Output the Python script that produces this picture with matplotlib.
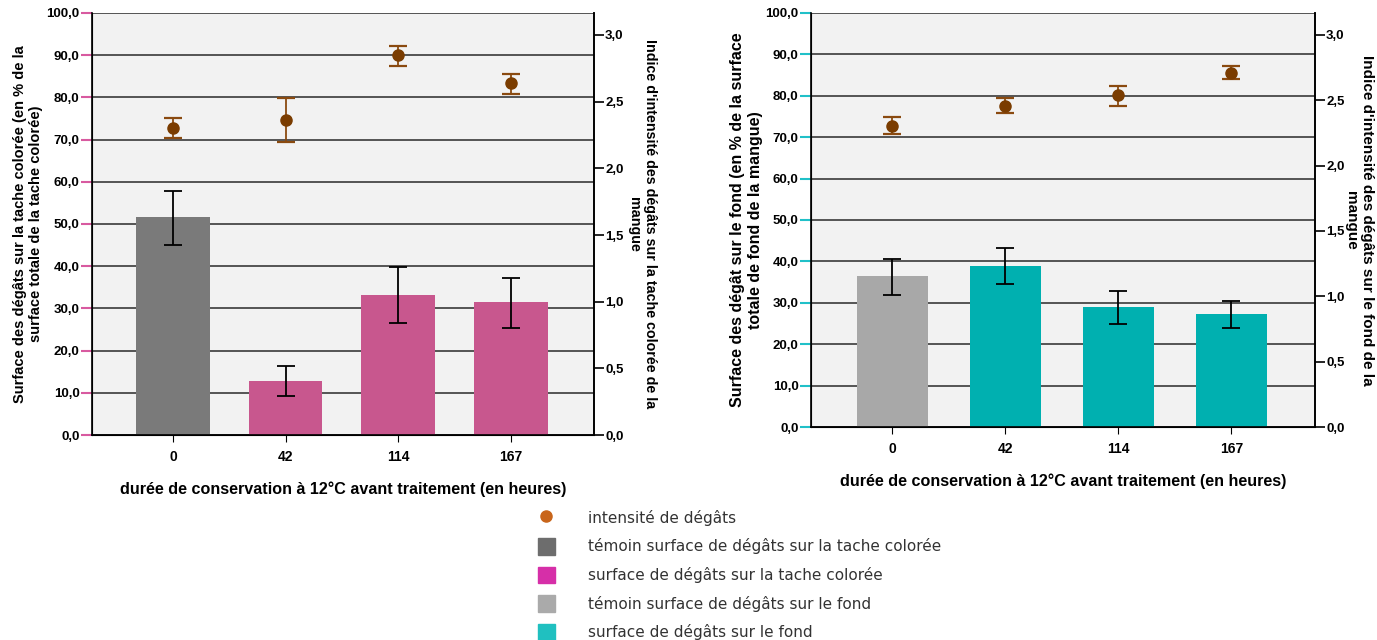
import matplotlib.pyplot as plt
from matplotlib.lines import Line2D
from matplotlib.patches import Patch

plt.rcParams['font.family'] = ['Liberation Sans', 'DejaVu Sans']

# Data
categories = ['0', '42', '114', '167']

# left chart: tache colorée
tache_surface = [51.6, 12.9, 33.2, 31.4]
tache_surface_low = [45.0, 9.2, 26.6, 25.4]
tache_surface_high = [57.9, 16.3, 39.7, 37.1]
tache_index = [2.30, 2.36, 2.85, 2.64]
tache_index_low = [2.23, 2.20, 2.77, 2.56]
tache_index_high = [2.38, 2.53, 2.92, 2.71]

# right chart: fond
fond_surface = [36.4, 39.0, 29.0, 27.4]
fond_surface_low = [32.0, 34.5, 25.0, 24.0]
fond_surface_high = [40.5, 43.3, 32.9, 30.4]
fond_index = [2.30, 2.46, 2.54, 2.71]
fond_index_low = [2.24, 2.40, 2.46, 2.66]
fond_index_high = [2.37, 2.52, 2.61, 2.76]

left_ticks = [0, 10, 20, 30, 40, 50, 60, 70, 80, 90, 100]
left_ticklabels = ['0,0', '10,0', '20,0', '30,0', '40,0', '50,0', '60,0', '70,0', '80,0', '90,0', '100,0']
right_ticks = [0, 0.5, 1.0, 1.5, 2.0, 2.5, 3.0]
right_ticklabels = ['0,0', '0,5', '1,0', '1,5', '2,0', '2,5', '3,0']

legend_labels = ['intensité de dégâts',
                 'témoin surface de dégâts sur la tache colorée',
                 'surface de dégâts sur la tache colorée',
                 'témoin surface de dégâts sur le fond',
                 'surface de dégâts sur le fond']

xlabel = 'durée de conservation à 12°C avant traitement (en heures)'


def draw_panel(rect, surface, s_low, s_high, index, i_low, i_high,
               bar_colors, tick_color, ylabel, ylabel2, width, rtop,
               ysize, ysize2, rx):
    ax = fig.add_axes(rect)
    ax.set_facecolor('#f2f2f2')
    x = list(range(len(categories)))
    ax.bar(x, surface, width=width, color=bar_colors, zorder=2)
    yerr = [[s - l for s, l in zip(surface, s_low)],
            [h - s for s, h in zip(surface, s_high)]]
    ax.errorbar(x, surface, yerr=yerr, fmt='none', ecolor='black',
                elinewidth=1.3, capsize=6.5, capthick=1.3, zorder=3)
    ax.set_xlim(-0.72, 3.74)
    ax.set_ylim(0, 100)
    ax.set_yticks(left_ticks)
    ax.set_yticklabels(left_ticklabels, fontsize=9.5, fontweight='bold')
    ax.tick_params(axis='y', color=tick_color, length=8, width=1.5, pad=1)
    ax.set_xticks(x)
    ax.set_xticklabels(categories, fontsize=10, fontweight='bold')
    ax.tick_params(axis='x', length=5, pad=6)
    ax.yaxis.grid(True, color='#2a2a2a', linewidth=1.1, zorder=0)
    ax.set_axisbelow(True)
    for side in ['left', 'bottom', 'right']:
        ax.spines[side].set_linewidth(1.2)
    ax.spines['top'].set_visible(False)
    ax.set_xlabel(xlabel, fontsize=11.6, fontweight='bold', labelpad=12)
    ax.set_ylabel(ylabel, fontsize=ysize, fontweight='bold', va='center')
    ax.yaxis.set_label_coords(-0.128, 0.5)

    ax2 = ax.twinx()
    ierr = [[v - l for v, l in zip(index, i_low)],
            [h - v for v, h in zip(index, i_high)]]
    ax2.errorbar(x, index, yerr=ierr, fmt='o', color='#7a3c00',
                 markersize=8, ecolor='#8a4a10', elinewidth=1.3,
                 capsize=6.5, capthick=1.6, zorder=4)
    ax2.set_ylim(0, rtop)
    ax2.set_yticks(right_ticks)
    ax2.set_yticklabels(right_ticklabels, fontsize=9.5, fontweight='bold')
    ax2.tick_params(axis='y', length=7, width=1.2, pad=1)
    ax2.spines['top'].set_visible(False)
    ax2.spines['right'].set_linewidth(1.2)
    ax2.set_ylabel(ylabel2, fontsize=ysize2, fontweight='bold',
                   rotation=270, va='center', ha='center')
    ax2.yaxis.set_label_coords(rx, 0.5)
    return ax, ax2


fig = plt.figure(figsize=(13.77, 6.4), dpi=100)

draw_panel([0.0668, 0.3203, 0.3646, 0.6594],
           tache_surface, tache_surface_low, tache_surface_high,
           tache_index, tache_index_low, tache_index_high,
           ['#7a7a7a', '#c8578e', '#c8578e', '#c8578e'], '#d85aa0',
           'Surface des dégâts sur la tache colorée (en % de la\nsurface totale de la tache colorée)',
           "Indice d'intensité des dégâts sur la tache colorée de la\nmangue",
           0.655, 3.165, 10.5, 10.3, 1.096)

draw_panel([0.589, 0.3328, 0.366, 0.6469],
           fond_surface, fond_surface_low, fond_surface_high,
           fond_index, fond_index_low, fond_index_high,
           ['#a8a8a8', '#00b0b0', '#00b0b0', '#00b0b0'], '#20c0c8',
           'Surface des dégât sur le fond (en % de la surface\ntotale de fond de la mangue)',
           "Indice d'intensité des dégâts sur le fond de la\nmangue",
           0.625, 3.168, 11.5, 11, 1.087)

handles = [Line2D([], [], marker='o', linestyle='none', color='#c8651b', markersize=8),
           Patch(color='#6d6d6d'), Patch(color='#d62fa8'),
           Patch(color='#aaaaaa'), Patch(color='#20c0c0')]
leg = fig.legend(handles, legend_labels, loc='upper left',
                 bbox_to_anchor=(0.385, 0.216), frameon=False,
                 prop={'family': 'DejaVu Sans', 'size': 11},
                 handlelength=1.1, handleheight=1.3, labelspacing=0.78,
                 handletextpad=2.2, borderpad=0)
for t in leg.get_texts():
    t.set_color('#333333')

fig.savefig('out.png', dpi=100)
